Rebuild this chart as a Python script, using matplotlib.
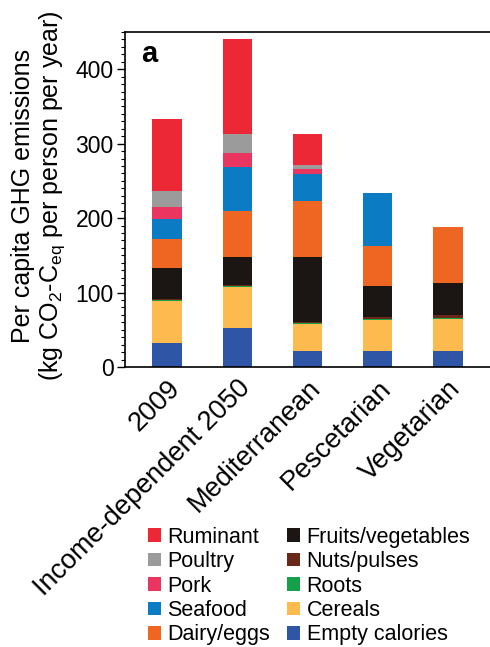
import matplotlib
matplotlib.use("Agg")
import matplotlib.pyplot as plt
import numpy as np

plt.rcParams['font.family'] = ['Liberation Sans', 'DejaVu Sans']
plt.rcParams['mathtext.fontset'] = 'custom'
plt.rcParams['mathtext.rm'] = 'Liberation Sans'
plt.rcParams['mathtext.it'] = 'Liberation Sans:italic'

diets = ["2009", "Income-dependent 2050", "Mediterranean", "Pescetarian", "Vegetarian"]

# stacked from bottom to top (kg CO2-Ceq per person per year)
empty_calories = [32, 52, 21.5, 21.5, 21.5]
cereals = [57, 56, 36, 41, 43]
roots = [1.5, 1.2, 1.5, 1.5, 1.3]
nuts_pulses = [1.2, 1.0, 1.2, 3.0, 4.5]
fruits_veg = [41.5, 37, 87, 42, 42]
dairy_eggs = [38.5, 62, 76, 53.7, 76]
seafood = [27, 59, 36.7, 70.6, 0]
pork = [16, 19, 6.3, 0, 0]
poultry = [21.5, 25.5, 5, 0, 0]
ruminant = [97.5, 127.5, 41.5, 0, 0]

layers = [
    ("Empty calories", empty_calories, "#2f55a6"),
    ("Cereals", cereals, "#fdbb4f"),
    ("Roots", roots, "#17a04a"),
    ("Nuts/pulses", nuts_pulses, "#6a2818"),
    ("Fruits/vegetables", fruits_veg, "#1b1513"),
    ("Dairy/eggs", dairy_eggs, "#ef6623"),
    ("Seafood", seafood, "#0b7cc3"),
    ("Pork", pork, "#ea3560"),
    ("Poultry", poultry, "#9b9b9b"),
    ("Ruminant", ruminant, "#ec2836"),
]

fig = plt.figure(figsize=(4.9, 6.47), dpi=100)
ax = fig.add_axes([0.255, 0.4328, 0.745, 0.5177])

x = np.arange(len(diets))
bottom = np.zeros(len(diets))
handles = {}
for name, vals, color in layers:
    vals = np.array(vals, dtype=float)
    b = ax.bar(x, vals, 0.42, bottom=bottom, color=color, linewidth=0, label=name)
    handles[name] = b
    bottom += vals

ax.set_xlim(-0.6, 4.6)
ax.set_ylim(0, 450)
ax.set_yticks([0, 100, 200, 300, 400])
ax.set_yticks(np.arange(0, 451, 10), minor=True)
ax.tick_params(axis='y', which='major', length=6, width=1, labelsize=16.5, pad=2)
ax.tick_params(axis='y', which='minor', length=3, width=0.8)
ax.set_xticks(x)
ax.set_xticklabels(diets, rotation=45, ha='right', rotation_mode='anchor', fontsize=19.5)
ax.tick_params(axis='x', length=0, pad=6)
ax.spines['right'].set_visible(False)
for s in ['left', 'bottom', 'top']:
    ax.spines[s].set_linewidth(1.2)

ax.set_ylabel("Per capita GHG emissions\n(kg CO$_2$-C$_{\\mathrm{eq}}$ per person per year)",
              fontsize=18, linespacing=1.1)
ax.yaxis.set_label_coords(-0.16, 0.51)

ax.text(0.045, 0.935, "a", transform=ax.transAxes, fontsize=21, fontweight='bold',
        va='center', ha='left')

order = ["Ruminant", "Poultry", "Pork", "Seafood", "Dairy/eggs",
         "Fruits/vegetables", "Nuts/pulses", "Roots", "Cereals", "Empty calories"]
fig.legend([handles[n] for n in order], order, loc='upper left',
           bbox_to_anchor=(0.302, 0.186), ncol=2, frameon=False, fontsize=15.5,
           handlelength=0.6, handleheight=0.6, handletextpad=0.3,
           columnspacing=0.8, labelspacing=0.16, borderpad=0, borderaxespad=0)

fig.savefig("out.png", dpi=100)
